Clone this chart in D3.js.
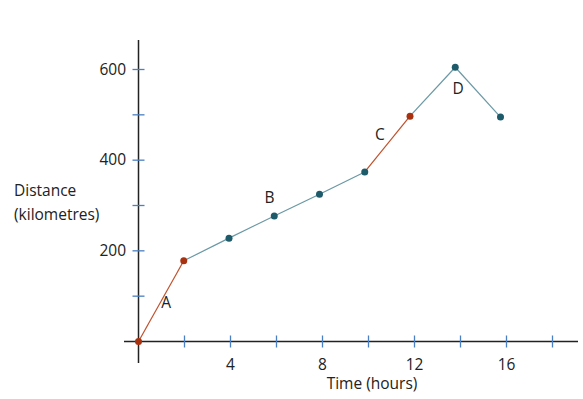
<!DOCTYPE html>
<html>
<head>
<meta charset="utf-8">
<script src="https://cdn.jsdelivr.net/npm/d3@7"></script>
<style>
  body { margin: 0; background: #fff; }
  text { font-family: "Open Sans", "Noto Sans", sans-serif; font-size: 15.5px; fill: #222; }
</style>
</head>
<body>
<div id="chart"></div>
<script>
// journey data
const hours = [0, 2, 4, 6, 8, 10, 12, 14, 16];
const distance = [0, 178, 228, 277, 325, 374, 497, 605, 495];
const pointColour = ['r', 'r', 't', 't', 't', 't', 'r', 't', 't'];
const segmentColour = ['r', 't', 't', 't', 't', 'r', 't', 't'];
const xTicks = [2, 4, 6, 8, 10, 12, 14, 16, 18];
const xLabels = [4, 8, 12, 16];
const yTicks = [100, 200, 300, 400, 500, 600];
const yLabels = [200, 400, 600];
const stageLabels = ['A', 'B', 'C', 'D'];
const stageAt = [[1.2, 75], [5.7, 305], [10.5, 445], [13.9, 545]];

const width = 583, height = 399;
const red = '#a8320f', teal = '#1d5a6a';

const svg = d3.select('#chart').append('svg')
  .attr('width', width)
  .attr('height', height);

const x = d3.scaleLinear().domain([0, 18]).range([138.5, 552.5]);
// dots sit a touch left of the tick marks in the source drawing
const xp = d3.scaleLinear().domain([0, 16]).range([138.5, 500.5]);
const y = d3.scaleLinear().domain([0, 600]).range([341.5, 69.5]);

// axes lines
svg.append('line')
  .attr('x1', x(0)).attr('x2', x(0))
  .attr('y1', 40).attr('y2', 363)
  .style('stroke', '#222').style('stroke-width', 1.5);
svg.append('line')
  .attr('x1', 124).attr('x2', 578)
  .attr('y1', y(0)).attr('y2', y(0))
  .style('stroke', '#222').style('stroke-width', 1.5);

// tick marks
svg.selectAll('.xtick').data(xTicks).enter().append('line')
  .attr('x1', d => x(d)).attr('x2', d => x(d))
  .attr('y1', y(0) - 6).attr('y2', y(0) + 6)
  .style('stroke', '#4a7fc1').style('stroke-width', 1.3);
svg.selectAll('.ytick').data(yTicks).enter().append('line')
  .attr('x1', x(0) - 6).attr('x2', x(0) + 6)
  .attr('y1', d => y(d)).attr('y2', d => y(d))
  .style('stroke', '#4a7fc1').style('stroke-width', 1.3);

// tick labels
svg.selectAll('.xlab').data(xLabels).enter().append('text')
  .attr('x', d => x(d)).attr('y', 370)
  .attr('text-anchor', 'middle')
  .text(d => d);
svg.selectAll('.ylab').data(yLabels).enter().append('text')
  .attr('x', 126).attr('y', d => y(d) + 5)
  .attr('text-anchor', 'end')
  .text(d => d);

// axis titles
svg.append('text').attr('x', 372).attr('y', 389)
  .attr('text-anchor', 'middle').text('Time (hours)');
svg.append('text').attr('x', 14).attr('y', 196).text('Distance');
svg.append('text').attr('x', 14).attr('y', 220).text('(kilometres)');

// segments
const pts = hours.map((h, i) => ({ h: h, d: distance[i], c: pointColour[i] }));
svg.selectAll('.seg').data(segmentColour).enter().append('line')
  .attr('x1', (c, i) => xp(pts[i].h)).attr('y1', (c, i) => y(pts[i].d))
  .attr('x2', (c, i) => xp(pts[i + 1].h)).attr('y2', (c, i) => y(pts[i + 1].d))
  .style('stroke', c => c === 'r' ? '#c0502a' : '#6a98a4')
  .style('stroke-width', 1.2);

// points
svg.selectAll('.pt').data(pts).enter().append('circle')
  .attr('cx', d => xp(d.h)).attr('cy', d => y(d.d))
  .attr('r', 3.5)
  .style('fill', d => d.c === 'r' ? red : teal);

// stage letters
svg.selectAll('.stage').data(stageLabels).enter().append('text')
  .attr('x', (d, i) => x(stageAt[i][0])).attr('y', (d, i) => y(stageAt[i][1]))
  .attr('text-anchor', 'middle')
  .text(d => d);
</script>
</body>
</html>
